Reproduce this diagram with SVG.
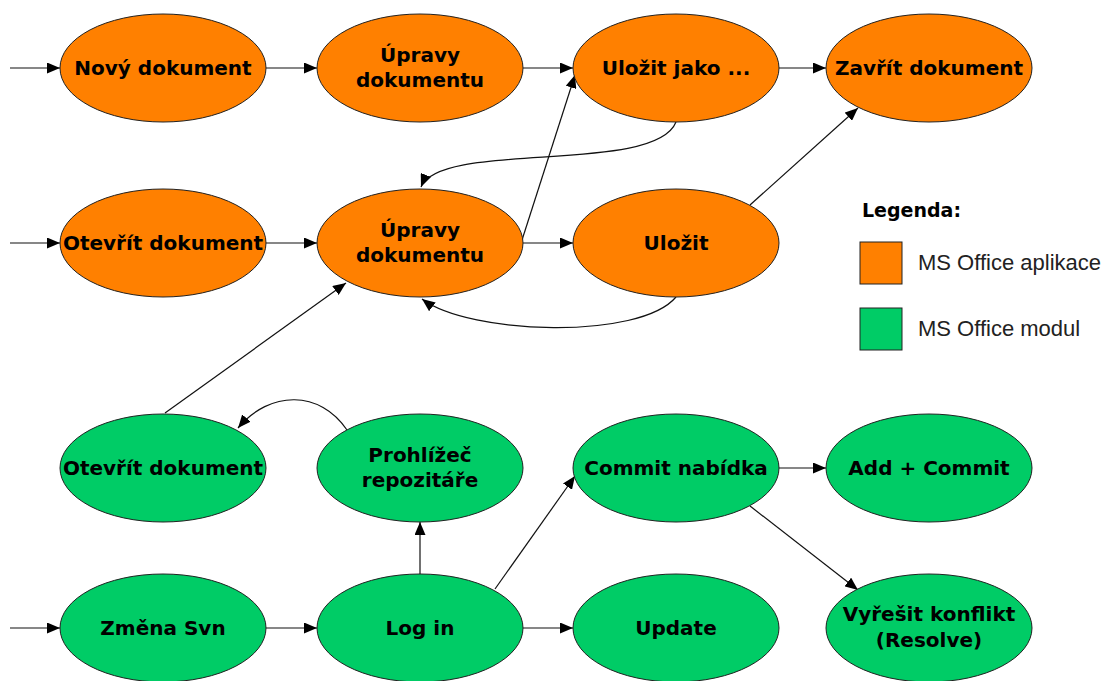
<svg xmlns="http://www.w3.org/2000/svg" width="1108" height="681" viewBox="0 0 1108 681">
<style>
.o{fill:#FF8000;stroke:#222;stroke-width:1}
.g{fill:#00CC66;stroke:#222;stroke-width:1}
.t{font-family:"DejaVu Sans",sans-serif;font-weight:bold;font-size:20px;fill:#000;text-anchor:middle}
.c{fill:none;stroke:#111;stroke-width:1.2}
.lg{font-family:"Liberation Sans",Arial,sans-serif;font-size:22px;fill:#222}
</style>
<defs>
<marker id="ah" markerUnits="userSpaceOnUse" markerWidth="13" markerHeight="11" refX="13" refY="5.5" orient="auto">
<path d="M0,0 L13,5.5 L0,11 z" fill="#000"/>
</marker>
</defs>
<rect width="1108" height="681" fill="#fff"/>
<g id="connectors">
<line class="c" x1="10" y1="68" x2="60" y2="68" marker-end="url(#ah)"/>
<line class="c" x1="266" y1="68" x2="317" y2="68" marker-end="url(#ah)"/>
<line class="c" x1="523" y1="68" x2="573" y2="68" marker-end="url(#ah)"/>
<line class="c" x1="779" y1="68" x2="826" y2="68" marker-end="url(#ah)"/>
<line class="c" x1="10" y1="243" x2="60" y2="243" marker-end="url(#ah)"/>
<line class="c" x1="266" y1="243" x2="317" y2="243" marker-end="url(#ah)"/>
<line class="c" x1="523" y1="243" x2="573" y2="243" marker-end="url(#ah)"/>
<line class="c" x1="522" y1="240" x2="575" y2="75" marker-end="url(#ah)"/>
<path class="c" d="M676 122 C655 175,440 140,421 187" marker-end="url(#ah)"/>
<line class="c" x1="750" y1="205" x2="858" y2="108" marker-end="url(#ah)"/>
<path class="c" d="M676 297 C640 340,470 335,422 299" marker-end="url(#ah)"/>
<line class="c" x1="165" y1="413" x2="346" y2="283" marker-end="url(#ah)"/>
<path class="c" d="M347 430 C320 390,270 390,238 428" marker-end="url(#ah)"/>
<line class="c" x1="420" y1="574" x2="420" y2="522" marker-end="url(#ah)"/>
<line class="c" x1="10" y1="628" x2="60" y2="628" marker-end="url(#ah)"/>
<line class="c" x1="266" y1="628" x2="317" y2="628" marker-end="url(#ah)"/>
<line class="c" x1="523" y1="628" x2="573" y2="628" marker-end="url(#ah)"/>
<line class="c" x1="495" y1="589" x2="575" y2="476" marker-end="url(#ah)"/>
<line class="c" x1="779" y1="468" x2="826" y2="468" marker-end="url(#ah)"/>
<line class="c" x1="750" y1="506" x2="858" y2="590" marker-end="url(#ah)"/>
</g>
<g id="novy"><ellipse class="o" cx="163" cy="68" rx="103" ry="54"/><text class="t" x="163" y="75">Nový dokument</text></g>
<g id="upravy1"><ellipse class="o" cx="420" cy="68" rx="103" ry="54"/><text class="t" x="420" y="62">Úpravy</text><text class="t" x="420" y="87">dokumentu</text></g>
<g id="ulozitjako"><ellipse class="o" cx="676" cy="68" rx="103" ry="54"/><text class="t" x="676" y="75">Uložit jako ...</text></g>
<g id="zavrit"><ellipse class="o" cx="929" cy="68" rx="103" ry="54"/><text class="t" x="929" y="75">Zavřít dokument</text></g>
<g id="otevrit1"><ellipse class="o" cx="163" cy="243" rx="103" ry="54"/><text class="t" x="163" y="250">Otevřít dokument</text></g>
<g id="upravy2"><ellipse class="o" cx="420" cy="243" rx="103" ry="54"/><text class="t" x="420" y="237">Úpravy</text><text class="t" x="420" y="262">dokumentu</text></g>
<g id="ulozit"><ellipse class="o" cx="676" cy="243" rx="103" ry="54"/><text class="t" x="676" y="250">Uložit</text></g>
<g id="otevrit2"><ellipse class="g" cx="163" cy="468" rx="103" ry="54"/><text class="t" x="163" y="475">Otevřít dokument</text></g>
<g id="prohlizec"><ellipse class="g" cx="420" cy="468" rx="103" ry="54"/><text class="t" x="420" y="462">Prohlížeč</text><text class="t" x="420" y="487">repozitáře</text></g>
<g id="commit"><ellipse class="g" cx="676" cy="468" rx="103" ry="54"/><text class="t" x="676" y="475">Commit nabídka</text></g>
<g id="addcommit"><ellipse class="g" cx="929" cy="468" rx="103" ry="54"/><text class="t" x="929" y="475">Add + Commit</text></g>
<g id="zmena"><ellipse class="g" cx="163" cy="628" rx="103" ry="54"/><text class="t" x="163" y="635">Změna Svn</text></g>
<g id="login"><ellipse class="g" cx="420" cy="628" rx="103" ry="54"/><text class="t" x="420" y="635">Log in</text></g>
<g id="update"><ellipse class="g" cx="676" cy="628" rx="103" ry="54"/><text class="t" x="676" y="635">Update</text></g>
<g id="vyresit"><ellipse class="g" cx="929" cy="628" rx="103" ry="54"/><text class="t" x="929" y="621">Vyřešit konflikt</text><text class="t" x="929" y="647">(Resolve)</text></g>
<g id="legend">
<text x="862" y="217" font-family="DejaVu Sans,sans-serif" font-weight="bold" font-size="19" fill="#000">Legenda:</text>
<rect class="o" x="860" y="242" width="42" height="42"/>
<text class="lg" x="918" y="270">MS Office aplikace</text>
<rect class="g" x="860" y="308" width="42" height="42"/>
<text class="lg" x="918" y="336">MS Office modul</text>
</g>
</svg>
